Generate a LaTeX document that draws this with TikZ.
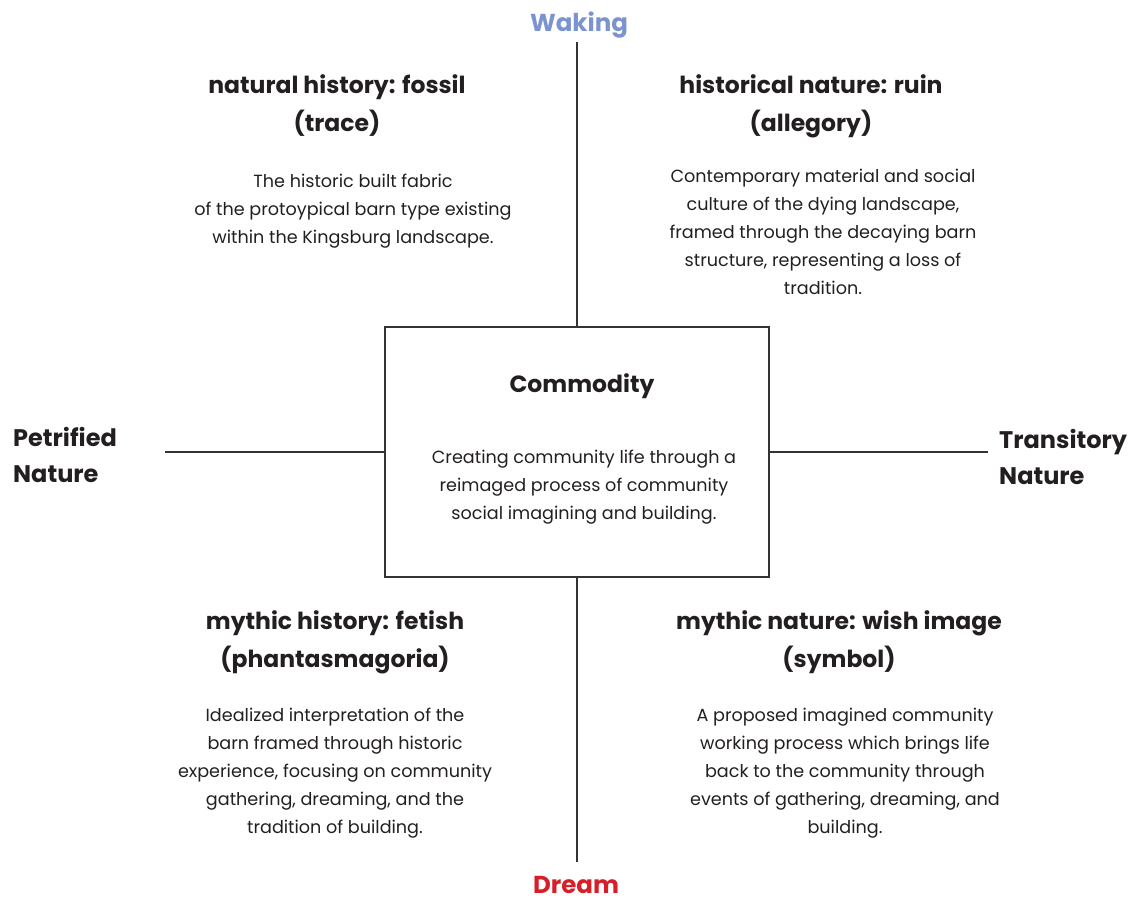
\documentclass[tikz,border=0pt]{standalone}
\usepackage{fontspec}
\setmainfont{Poppins}
\definecolor{waking}{HTML}{7B94D0}
\definecolor{dream}{HTML}{D71F2A}
\definecolor{ink}{HTML}{231F20}
\definecolor{rule}{HTML}{333333}
\begin{document}
\begin{tikzpicture}[x=1pt,y=-1pt,
  head/.style={font=\fontsize{23.5}{38}\selectfont\bfseries, text=ink, align=center, inner sep=0pt},
  body/.style={font=\fontsize{17.6}{28}\selectfont, text=ink, align=center, inner sep=0pt},
  axis/.style={font=\fontsize{24.5}{30}\selectfont\bfseries, inner sep=0pt},
  side/.style={font=\fontsize{24}{36}\selectfont\bfseries, text=ink, align=left, inner sep=0pt, anchor=west},
  ln/.style={draw=rule, line width=1.1pt}]
\useasboundingbox (0,0) rectangle (1136,902);
\node[ln, minimum width=384, minimum height=250, inner sep=0pt] (box) at (577,452) {};
\node[head] (ct) at (582,386) {Commodity};
\node[body] (cb) at (584,487) {Creating community life through a\\reimaged process of community\\social imagining and building.};
\node[axis, text=waking] (wk) at (579,25) {Waking};
\node[axis, text=dream] (dr) at (576,885) {Dream};
\coordinate (top) at (577,42);
\coordinate (bot) at (577,862);
\coordinate (lft) at (165,452);
\coordinate (rgt) at (988,452);
\draw[ln] (top) -- (box.north);
\draw[ln] (box.south) -- (bot);
\draw[ln] (lft) -- (box.west);
\draw[ln] (box.east) -- (rgt);
\node[side] (pn) at (13,455) {Petrified\\Nature};
\node[side] (tn) at (999,457) {Transitory\\Nature};
\node[head] (h1) at (337,106) {natural history: fossil\\(trace)};
\node[body] (b1) at (353,211) {The historic built fabric\\of the protoypical barn type existing\\within the Kingsburg landscape.};
\node[head] (h2) at (811,106) {historical nature: ruin\\(allegory)};
\node[body] (b2) at (823,232) {Contemporary material and social\\culture of the dying landscape,\\framed through the decaying barn\\structure, representing a loss of\\tradition.};
\node[head] (h3) at (335,642) {mythic history: fetish\\(phantasmagoria)};
\node[body] (b3) at (335,773) {Idealized interpretation of the\\barn framed through historic\\experience, focusing on community\\gathering, dreaming, and the\\tradition of building.};
\node[head] (h4) at (839,642) {mythic nature: wish image\\(symbol)};
\node[body] (b4) at (845,773) {A proposed imagined community\\working process which brings life\\back to the community through\\events of gathering, dreaming, and\\building.};
\end{tikzpicture}
\end{document}
